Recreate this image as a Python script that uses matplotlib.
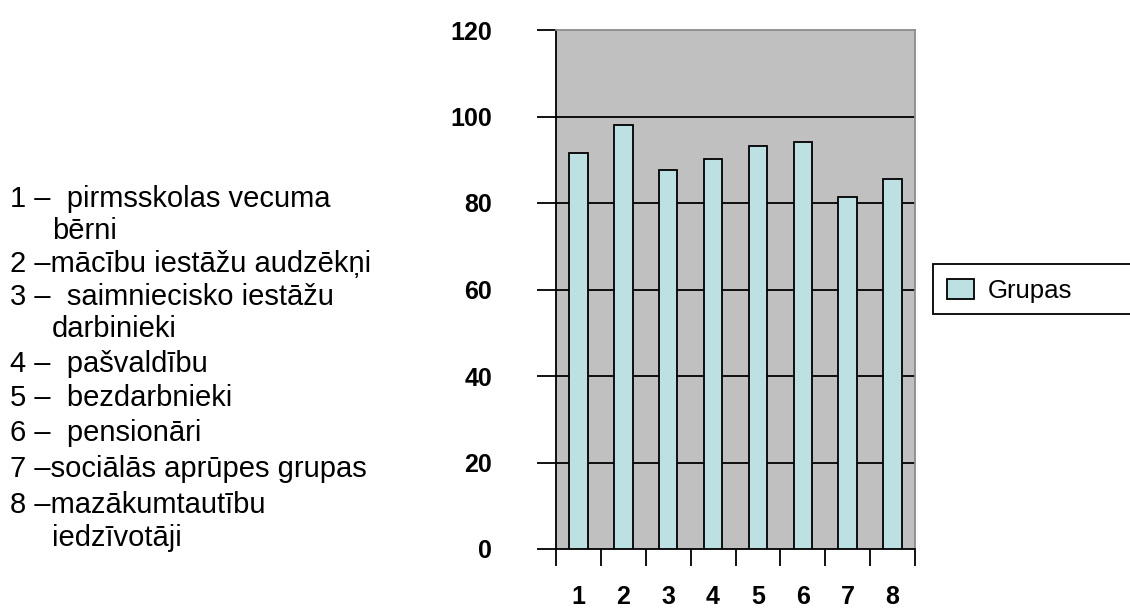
import matplotlib
matplotlib.use("Agg")
import matplotlib.pyplot as plt
from matplotlib.patches import Rectangle

# ---- data ----
categories = ["1", "2", "3", "4", "5", "6", "7", "8"]
values = [91.5, 98.0, 87.6, 90.1, 93.1, 94.1, 81.3, 85.6]
series_name = "Grupas"
y_ticks = [0, 20, 40, 60, 80, 100, 120]
description_lines = [
    "1 –  pirmsskolas vecuma",
    "bērni",
    "2 –mācību iestāžu audzēkņi",
    "3 –  saimniecisko iestāžu",
    "darbinieki",
    "4 –  pašvaldību",
    "5 –  bezdarbnieki",
    "6 –  pensionāri",
    "7 –sociālās aprūpes grupas",
    "8 –mazākumtautību",
    "iedzīvotāji",
]

# ---- layout/style ----
W, H = 1130, 610
line_y_px = [199, 231, 264, 297, 329, 364, 398, 433, 469, 505, 538]
line_x_px = [10, 52, 10, 10, 52, 10, 10, 10, 10, 10, 52]
text_size = 21

plt.rcParams["font.family"] = ["Liberation Sans", "DejaVu Sans"]
fig = plt.figure(figsize=(W / 100, H / 100), dpi=100)
fig.patch.set_facecolor("white")

ax = fig.add_axes([556 / W, 1 - 549 / H, (915 - 556) / W, (549 - 30) / H])
ax.set_facecolor("#C0C0C0")

x = list(range(1, len(categories) + 1))
ax.bar(x, values, width=0.41, color="#BDE0E3", edgecolor="black",
       linewidth=1.3, zorder=3, label=series_name)

ax.set_xlim(0.5, len(categories) + 0.5)
ax.set_ylim(0, 120)
ax.set_yticks(y_ticks)
ax.set_yticklabels([str(v) for v in y_ticks], fontsize=18, fontweight="bold")
ax.tick_params(axis="y", direction="out", length=14, width=1.3, pad=32,
               color="black")
for v in y_ticks[1:-1]:
    ax.axhline(v, color="black", linewidth=1.3, zorder=2)

ax.set_xticks(x)
ax.set_xticklabels(categories, fontsize=18, fontweight="bold")
ax.tick_params(axis="x", which="major", length=0, pad=26)
ax.set_xticks([i + 0.5 for i in range(0, len(categories) + 1)], minor=True)
ax.tick_params(axis="x", which="minor", direction="out", length=12,
               width=1.3, color="black")

for s in ["left", "bottom"]:
    ax.spines[s].set_color("black")
    ax.spines[s].set_linewidth(1.3)
for s in ["top", "right"]:
    ax.spines[s].set_color("#8C8C8C")
    ax.spines[s].set_linewidth(1.3)

# legend box (extends past right edge like the reference)
fig.add_artist(Rectangle((933 / W, 1 - 314 / H), (1140 - 933) / W, 50 / H,
                         transform=fig.transFigure, facecolor="white",
                         edgecolor="black", linewidth=1.3, clip_on=False))
handles, labels = ax.get_legend_handles_labels()
leg = fig.legend(handles, labels, loc="center left",
                 bbox_to_anchor=(947 / W, 1 - 291 / H), frameon=False,
                 fontsize=18.5, handlelength=1.05, handleheight=0.82,
                 handletextpad=0.55, borderpad=0.0, borderaxespad=0.0)

for txt, xp, yp in zip(description_lines, line_x_px, line_y_px):
    fig.text(xp / W, 1 - yp / H, txt, fontsize=text_size, ha="left",
             va="center", color="black")

fig.savefig("out.png", dpi=100)
